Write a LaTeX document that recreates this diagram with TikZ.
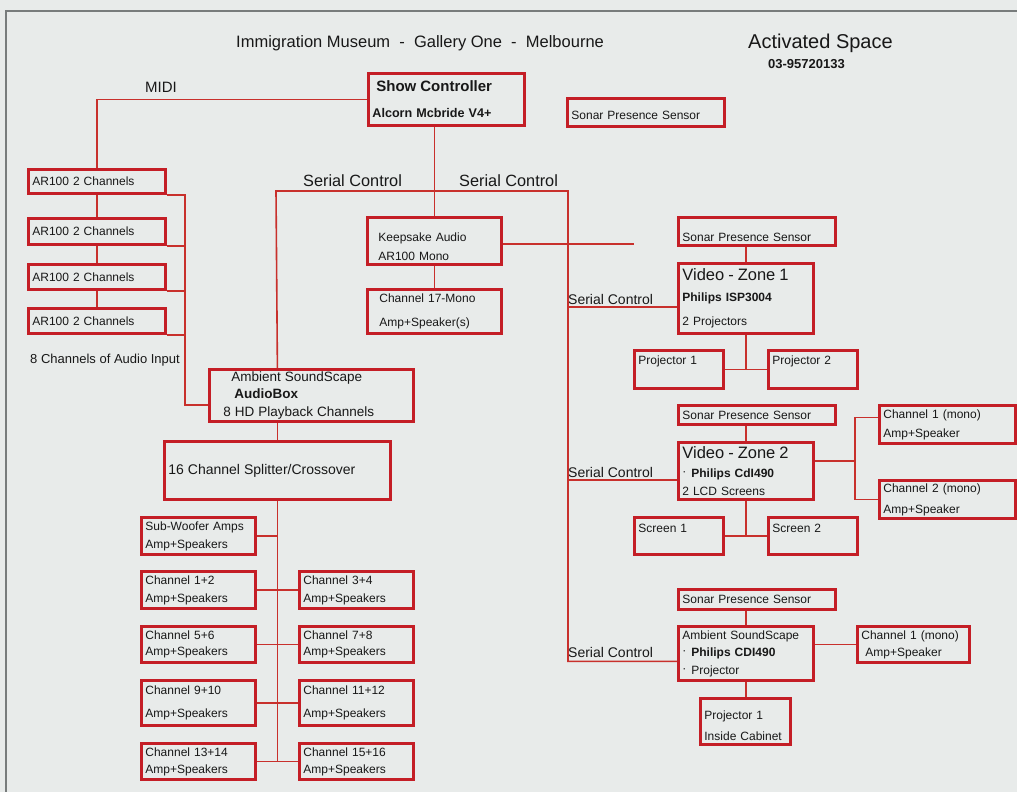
\documentclass[tikz,border=0pt]{standalone}
\usepackage{fontspec}
\setmainfont{Liberation Sans}

\definecolor{paper}{RGB}{232,235,234}
\definecolor{boxred}{RGB}{196,30,38}
\definecolor{wirered}{RGB}{200,48,44}
\definecolor{ink}{RGB}{24,24,24}
\definecolor{framegray}{RGB}{120,124,124}

\newcommand\boxstrut[2]{\rule[-#2]{0pt}{\dimexpr#1+#2\relax}}
\newcommand\fsz[1]{\fontsize{#1}{#1}\selectfont}
\newcommand\dotmark{\raisebox{2pt}{·}\hspace{5pt}}

\tikzset{
  box/.style 2 args={draw=boxred, line width=2.8pt, anchor=north west,
    inner xsep=4pt, inner ysep=0pt, text width=#1-8pt, minimum height=#2,
    align=left, text=ink, font=\fontsize{12}{18}\selectfont},
  wire/.style={draw=wirered, line width=1.6pt},
  lbl/.style={anchor=west, inner sep=0pt, text=ink},
}

\begin{document}
\begin{tikzpicture}[x=1pt, y=-1pt]
  \fill[paper] (0,0) rectangle (1017,792);
  \useasboundingbox (0,0) rectangle (1017,792);
  \draw[framegray, line width=1.5pt] (6,792) -- (6,11) -- (1017,11);

  \node[lbl, font=\fontsize{16.5}{20}\selectfont] (title) at (236,43) {Immigration Museum\ \ -\ \ Gallery One\ \ -\ \ Melbourne};
  \node[lbl, font=\fontsize{20}{24}\selectfont] (space) at (748,43) {Activated Space};
  \node[lbl, font=\fontsize{13}{15}\selectfont\bfseries] (phone) at (768,64) {03-95720133};
  \node[lbl, font=\fontsize{15}{18}\selectfont] (midi) at (145,87) {MIDI};
  \node[lbl, font=\fontsize{16.3}{20}\selectfont] (serialL) at (303,181) {Serial Control};
  \node[lbl, font=\fontsize{16.3}{20}\selectfont] (serialR) at (459,181) {Serial Control};
  \node[lbl, font=\fontsize{14}{17}\selectfont] (ctl1) at (568,299) {Serial Control};
  \node[lbl, font=\fontsize{14}{17}\selectfont] (ctl2) at (568,472) {Serial Control};
  \node[lbl, font=\fontsize{14}{17}\selectfont] (ctl3) at (568,652) {Serial Control};
  \node[lbl, font=\fontsize{13}{16}\selectfont] (inputs) at (30,360) {8 Channels of Audio Input};

  \node[box={156pt}{52pt}] (show) at (367,72) {{\fsz{15}\bfseries\hspace*{4pt}Show Controller}\\[8pt]{\fsz{12.6}\bfseries Alcorn Mcbride V4+}};
  \node[box={157pt}{28pt}] (sonar0) at (566,97) {\boxstrut{15pt}{0pt}Sonar Presence Sensor};

  \node[box={137pt}{24pt}] (ar1) at (27,168) {AR100 2 Channels};
  \node[box={137pt}{26pt}] (ar2) at (27,217) {AR100 2 Channels};
  \node[box={137pt}{25pt}] (ar3) at (27,263) {AR100 2 Channels};
  \node[box={137pt}{25pt}] (ar4) at (27,307) {AR100 2 Channels};

  \node[box={204pt}{52pt}] (audio) at (208,368) {\fontsize{13.5}{17.5}\selectfont\hspace*{18pt}Ambient SoundScape\\\hspace*{21pt}\textbf{AudioBox}\\\hspace*{10pt}8 HD Playback Channels};
  \node[box={226pt}{58pt}] (split) at (163,440) {\fontsize{14}{17}\selectfont 16 Channel Splitter/Crossover};

  \node[box={134pt}{47pt}] (keep) at (366,216) {\boxstrut{21pt}{0pt}\hspace*{7pt}Keepsake Audio\\[1pt]\hspace*{7pt}AR100 Mono};
  \node[box={134pt}{44pt}] (ch17) at (366,288) {\hspace*{8pt}Channel 17-Mono\\[6pt]\hspace*{8pt}Amp+Speaker(s)};

  \node[box={157pt}{28pt}] (sonar1) at (677,216) {\boxstrut{21pt}{0pt}Sonar Presence Sensor};
  \node[box={135pt}{70pt}] (vz1) at (677,262) {{\fsz{16.5}Video - Zone 1}\\[3pt]\textbf{Philips ISP3004}\\[6pt]2 Projectors};
  \node[box={89pt}{38pt}] (proj1) at (633,349) {Projector 1\boxstrut{0pt}{18pt}};
  \node[box={89pt}{38pt}] (proj2) at (767,349) {Projector 2\boxstrut{0pt}{18pt}};

  \node[box={157pt}{19pt}] (sonar2) at (677,404) {Sonar Presence Sensor};
  \node[box={135pt}{57pt}] (vz2) at (677,441) {{\fsz{16.5}Video - Zone 2}\\[1pt]\dotmark\textbf{Philips CdI490}\\2 LCD Screens};
  \node[box={89pt}{37pt}] (scr1) at (633,516) {Screen 1\boxstrut{0pt}{15pt}};
  \node[box={89pt}{37pt}] (scr2) at (767,516) {Screen 2\boxstrut{0pt}{15pt}};
  \node[box={136pt}{38pt}] (mono1) at (878,404) {Channel 1 (mono)\\[1pt]Amp+Speaker};
  \node[box={136pt}{38pt}] (mono2) at (878,479) {Channel 2 (mono)\\[3pt]Amp+Speaker};

  \node[box={157pt}{20pt}] (sonar3) at (677,588) {Sonar Presence Sensor};
  \node[box={135pt}{54pt}] (amb) at (677,625) {Ambient SoundScape\\[-1pt]\dotmark\textbf{Philips CDI490}\\\dotmark Projector};
  \node[box={112pt}{36pt}] (mono3) at (856,625) {Channel 1 (mono)\\[-1pt]\hspace*{4pt}Amp+Speaker};
  \node[box={90pt}{46pt}] (projc) at (699,697) {\boxstrut{18pt}{0pt}Projector 1\\[3pt]Inside Cabinet};

  \node[box={114pt}{37pt}] (sub) at (140,516) {Sub-Woofer Amps\\[0pt]Amp+Speakers};
  \node[box={114pt}{37pt}] (c12) at (140,570) {Channel 1+2\\Amp+Speakers};
  \node[box={114pt}{37pt}] (c34) at (298,570) {Channel 3+4\\Amp+Speakers};
  \node[box={114pt}{36pt}] (c56) at (140,625) {Channel 5+6\\[-2pt]Amp+Speakers};
  \node[box={114pt}{36pt}] (c78) at (298,625) {Channel 7+8\\[-2pt]Amp+Speakers};
  \node[box={114pt}{45pt}] (c910) at (140,679) {Channel 9+10\\[5pt]Amp+Speakers};
  \node[box={114pt}{45pt}] (c1112) at (298,679) {Channel 11+12\\[5pt]Amp+Speakers};
  \node[box={114pt}{36pt}] (c1314) at (140,742) {Channel 13+14\\[-1pt]Amp+Speakers};
  \node[box={114pt}{36pt}] (c1516) at (298,742) {Channel 15+16\\[-1pt]Amp+Speakers};

  \coordinate (mix) at (185,405);
  \coordinate (busL) at (276,191);
  \coordinate (busR) at (568,191);
  \coordinate (keepend) at (634,244);
  \coordinate (tap1) at (568,307);
  \coordinate (tap2) at (568,480);
  \coordinate (hub) at (855,461);

  \draw[wire] (show.west) -| (ar1.north);
  \draw[wire] (ar1.south) -- (ar2.north);
  \draw[wire] (ar2.south) -- (ar3.north);
  \draw[wire] (ar3.south) -- (ar4.north);
  \draw[wire] (ar1.south east) -| (mix) -- (mix -| audio.west);
  \draw[wire] (ar2.south east) -- (ar2.south east -| mix);
  \draw[wire] (ar3.south east) -- (ar3.south east -| mix);
  \draw[wire] (ar4.south east) -- (ar4.south east -| mix);

  \draw[wire] (split.north |- audio.north) -- (busL) -- (busR) |- ([yshift=-8pt]amb.west);
  \draw[wire] (keep.north) -- (keep.north |- show.south);
  \draw[wire] (keep.south) -- (ch17.north);
  \draw[wire] (keepend -| keep.east) -- (keepend);
  \draw[wire] (tap1) -- (tap1 -| vz1.west);
  \draw[wire] (tap2) -- (tap2 -| vz2.west);

  \draw[wire] (vz1.north) -- (vz1.north |- sonar1.south);
  \draw[wire] (vz1.south) -- (vz1.south |- proj1.east);
  \draw[wire] (proj1.east) -- (proj2.west);
  \draw[wire] (vz2.north) -- (vz2.north |- sonar2.south);
  \draw[wire] (vz2.south) -- (vz2.south |- scr1.east);
  \draw[wire] (scr1.east) -- (scr2.west);
  \draw[wire] (hub -| vz2.east) -- (hub);
  \draw[wire] ([yshift=7pt]mono1.west) -| (hub) |- (mono2.west);
  \draw[wire] (amb.north) -- (amb.north |- sonar3.south);
  \draw[wire] (amb.south) -- (amb.south |- projc.north);
  \draw[wire] (mono3.west) -- (mono3.west -| amb.east);

  \draw[wire] (split.north) -- (split.north |- audio.south);
  \draw[wire] (split.south) -- (split.south |- c1314.east);
  \draw[wire] (sub.east) -- (sub.east -| split.south);
  \draw[wire] (c12.east) -- (c34.west);
  \draw[wire] (c56.east) -- (c78.west);
  \draw[wire] (c910.east) -- (c1112.west);
  \draw[wire] (c1314.east) -- (c1516.west);
\end{tikzpicture}
\end{document}
